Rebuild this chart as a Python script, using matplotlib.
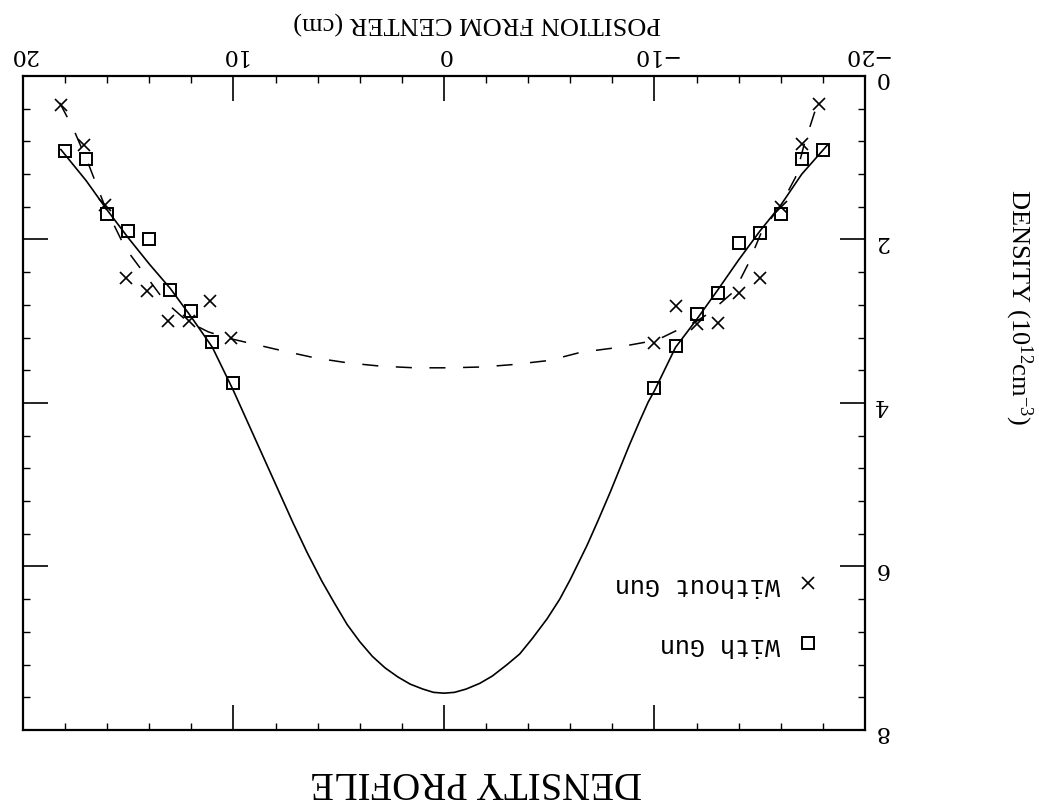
import matplotlib as mpl
mpl.use('Agg')
import matplotlib.pyplot as plt
from matplotlib.ticker import MultipleLocator

plt.rcParams['font.family'] = ['Liberation Serif', 'DejaVu Serif']
plt.rcParams['mathtext.default'] = 'regular'

# measured points, position (cm) and density (1e12 cm^-3)
with_gun_x = [18, 17, 16, 15, 14, 13, 12, 11, 10,
              -18, -17, -16, -15, -14, -13, -12, -11, -10]
with_gun_y = [0.92, 1.02, 1.69, 1.90, 2.00, 2.62, 2.87, 3.26, 3.75,
              0.90, 1.02, 1.69, 1.92, 2.04, 2.65, 2.91, 3.30, 3.82]

without_gun_x = [18.2, 17.1, 16.1, 15.1, 14.1, 13.1, 12.1, 11.1, 10.1,
                 -17.8, -17, -16, -15, -14, -13, -12, -11, -10]
without_gun_y = [0.35, 0.85, 1.58, 2.47, 2.63, 3.00, 3.00, 2.75, 3.20,
                 0.34, 0.83, 1.60, 2.47, 2.65, 3.02, 3.04, 2.81, 3.27]

# fitted curves
fit_with_x = [18.2, 17, 16, 15, 14, 13, 12, 11, 10, 9.3, 8.6, 7.9, 7.2,
              6.5, 5.8, 5.2, 4.6, 4.0, 3.4, 2.8, 2.2, 1.6, 1.0, 0.5, 0,
              -0.5, -1.05, -1.7, -2.3, -3.0, -3.6, -4.2, -4.9, -5.5, -6.0,
              -6.8, -7.3, -7.9, -8.8, -9.3, -9.7, -10, -11, -12, -13, -14,
              -15, -16, -17, -18.2]
fit_with_y = [0.90, 1.28, 1.64, 1.98, 2.30, 2.60, 2.95, 3.32, 3.85, 4.25,
              4.65, 5.05, 5.45, 5.83, 6.18, 6.45, 6.71, 6.92, 7.10, 7.24,
              7.35, 7.44, 7.50, 7.54, 7.55, 7.54, 7.50, 7.43, 7.34, 7.20,
              7.07, 6.88, 6.64, 6.40, 6.16, 5.74, 5.45, 5.09, 4.52, 4.22,
              3.99, 3.85, 3.32, 2.98, 2.62, 2.25, 1.90, 1.58, 1.20, 0.85]

fit_without_x = [18.25, 17.6, 16.9, 16.1, 15.15, 14.2, 13.25, 12.2, 11.2,
                 10.2, 9.2, 7.7, 6.1, 4.56, 3.0, 1.4, -0.2, -1.8, -3.3, -5.0,
                 -6.5, -8.0, -9.5, -10.2, -11.0, -12.0, -12.6, -13.8, -14.45,
                 -15.1, -16.0, -16.7, -17.1, -17.6, -17.85]
fit_without_y = [0.33, 0.65, 1.07, 1.60, 2.10, 2.43, 2.76, 3.00, 3.13,
                 3.21, 3.27, 3.36, 3.45, 3.51, 3.55, 3.57, 3.57, 3.56, 3.53,
                 3.48, 3.38, 3.33, 3.26, 3.22, 3.12, 3.00, 2.90, 2.63, 2.30,
                 1.90, 1.58, 1.24, 0.85, 0.45, 0.32]

fig = plt.figure(figsize=(10.39, 8.09), dpi=100)
ax = fig.add_axes([0.0221, 0.0977, 0.8104, 0.8084])

ax.plot(fit_with_x, fit_with_y, color='black', lw=1.2)
ax.plot(fit_without_x, fit_without_y, color='black', lw=1.1, dashes=(10.5, 11.5))
sq, = ax.plot(with_gun_x, with_gun_y, 's', ms=8.5, mfc='none', mec='black',
              mew=1.4, label='With Gun')
xx, = ax.plot(without_gun_x, without_gun_y, 'x', ms=9, mec='black',
              mew=1.2, label='Without Gun')

# the sheet is upside down
ax.set_xlim(20, -20)
ax.set_ylim(8, 0)
ax.xaxis.tick_top()
ax.yaxis.tick_right()
ax.xaxis.set_major_locator(MultipleLocator(10))
ax.xaxis.set_minor_locator(MultipleLocator(2))
ax.yaxis.set_major_locator(MultipleLocator(2))
ax.yaxis.set_minor_locator(MultipleLocator(0.4))
ax.tick_params(which='both', direction='in', top=True, bottom=True,
               left=True, right=True, color='black')
ax.tick_params(which='major', length=18, width=1.2, labelsize=16,
               labelrotation=180, pad=7)
ax.tick_params(which='minor', length=5, width=1.0)
for lab in ax.get_xticklabels() + ax.get_yticklabels():
    lab.set_family('DejaVu Serif')
for s in ax.spines.values():
    s.set_linewidth(1.6)

leg = ax.legend(handles=[xx, sq], loc='center right', frameon=False,
                markerfirst=False, prop={'family': 'Liberation Mono', 'size': 18},
                markerscale=0.95, labelspacing=1.45, handlelength=1.0,
                handletextpad=0.6, borderpad=0, borderaxespad=0,
                bbox_to_anchor=(820 / 1039, 1 - 615 / 809),
                bbox_transform=fig.transFigure)
for t in leg.get_texts():
    t.set_rotation(180)

fig.text(0.459, 0.972, 'POSITION FROM CENTER (cm)', rotation=180,
         ha='center', va='center', fontsize=19)
fig.text(0.458, 0.034, 'DENSITY PROFILE', rotation=180,
         ha='center', va='center', fontsize=28)
fig.text(0.98, 0.62, 'DENSITY (10$^{12}$cm$^{-3}$)', rotation=-90,
         ha='center', va='center', fontsize=19)

fig.savefig('out.png', dpi=100)
